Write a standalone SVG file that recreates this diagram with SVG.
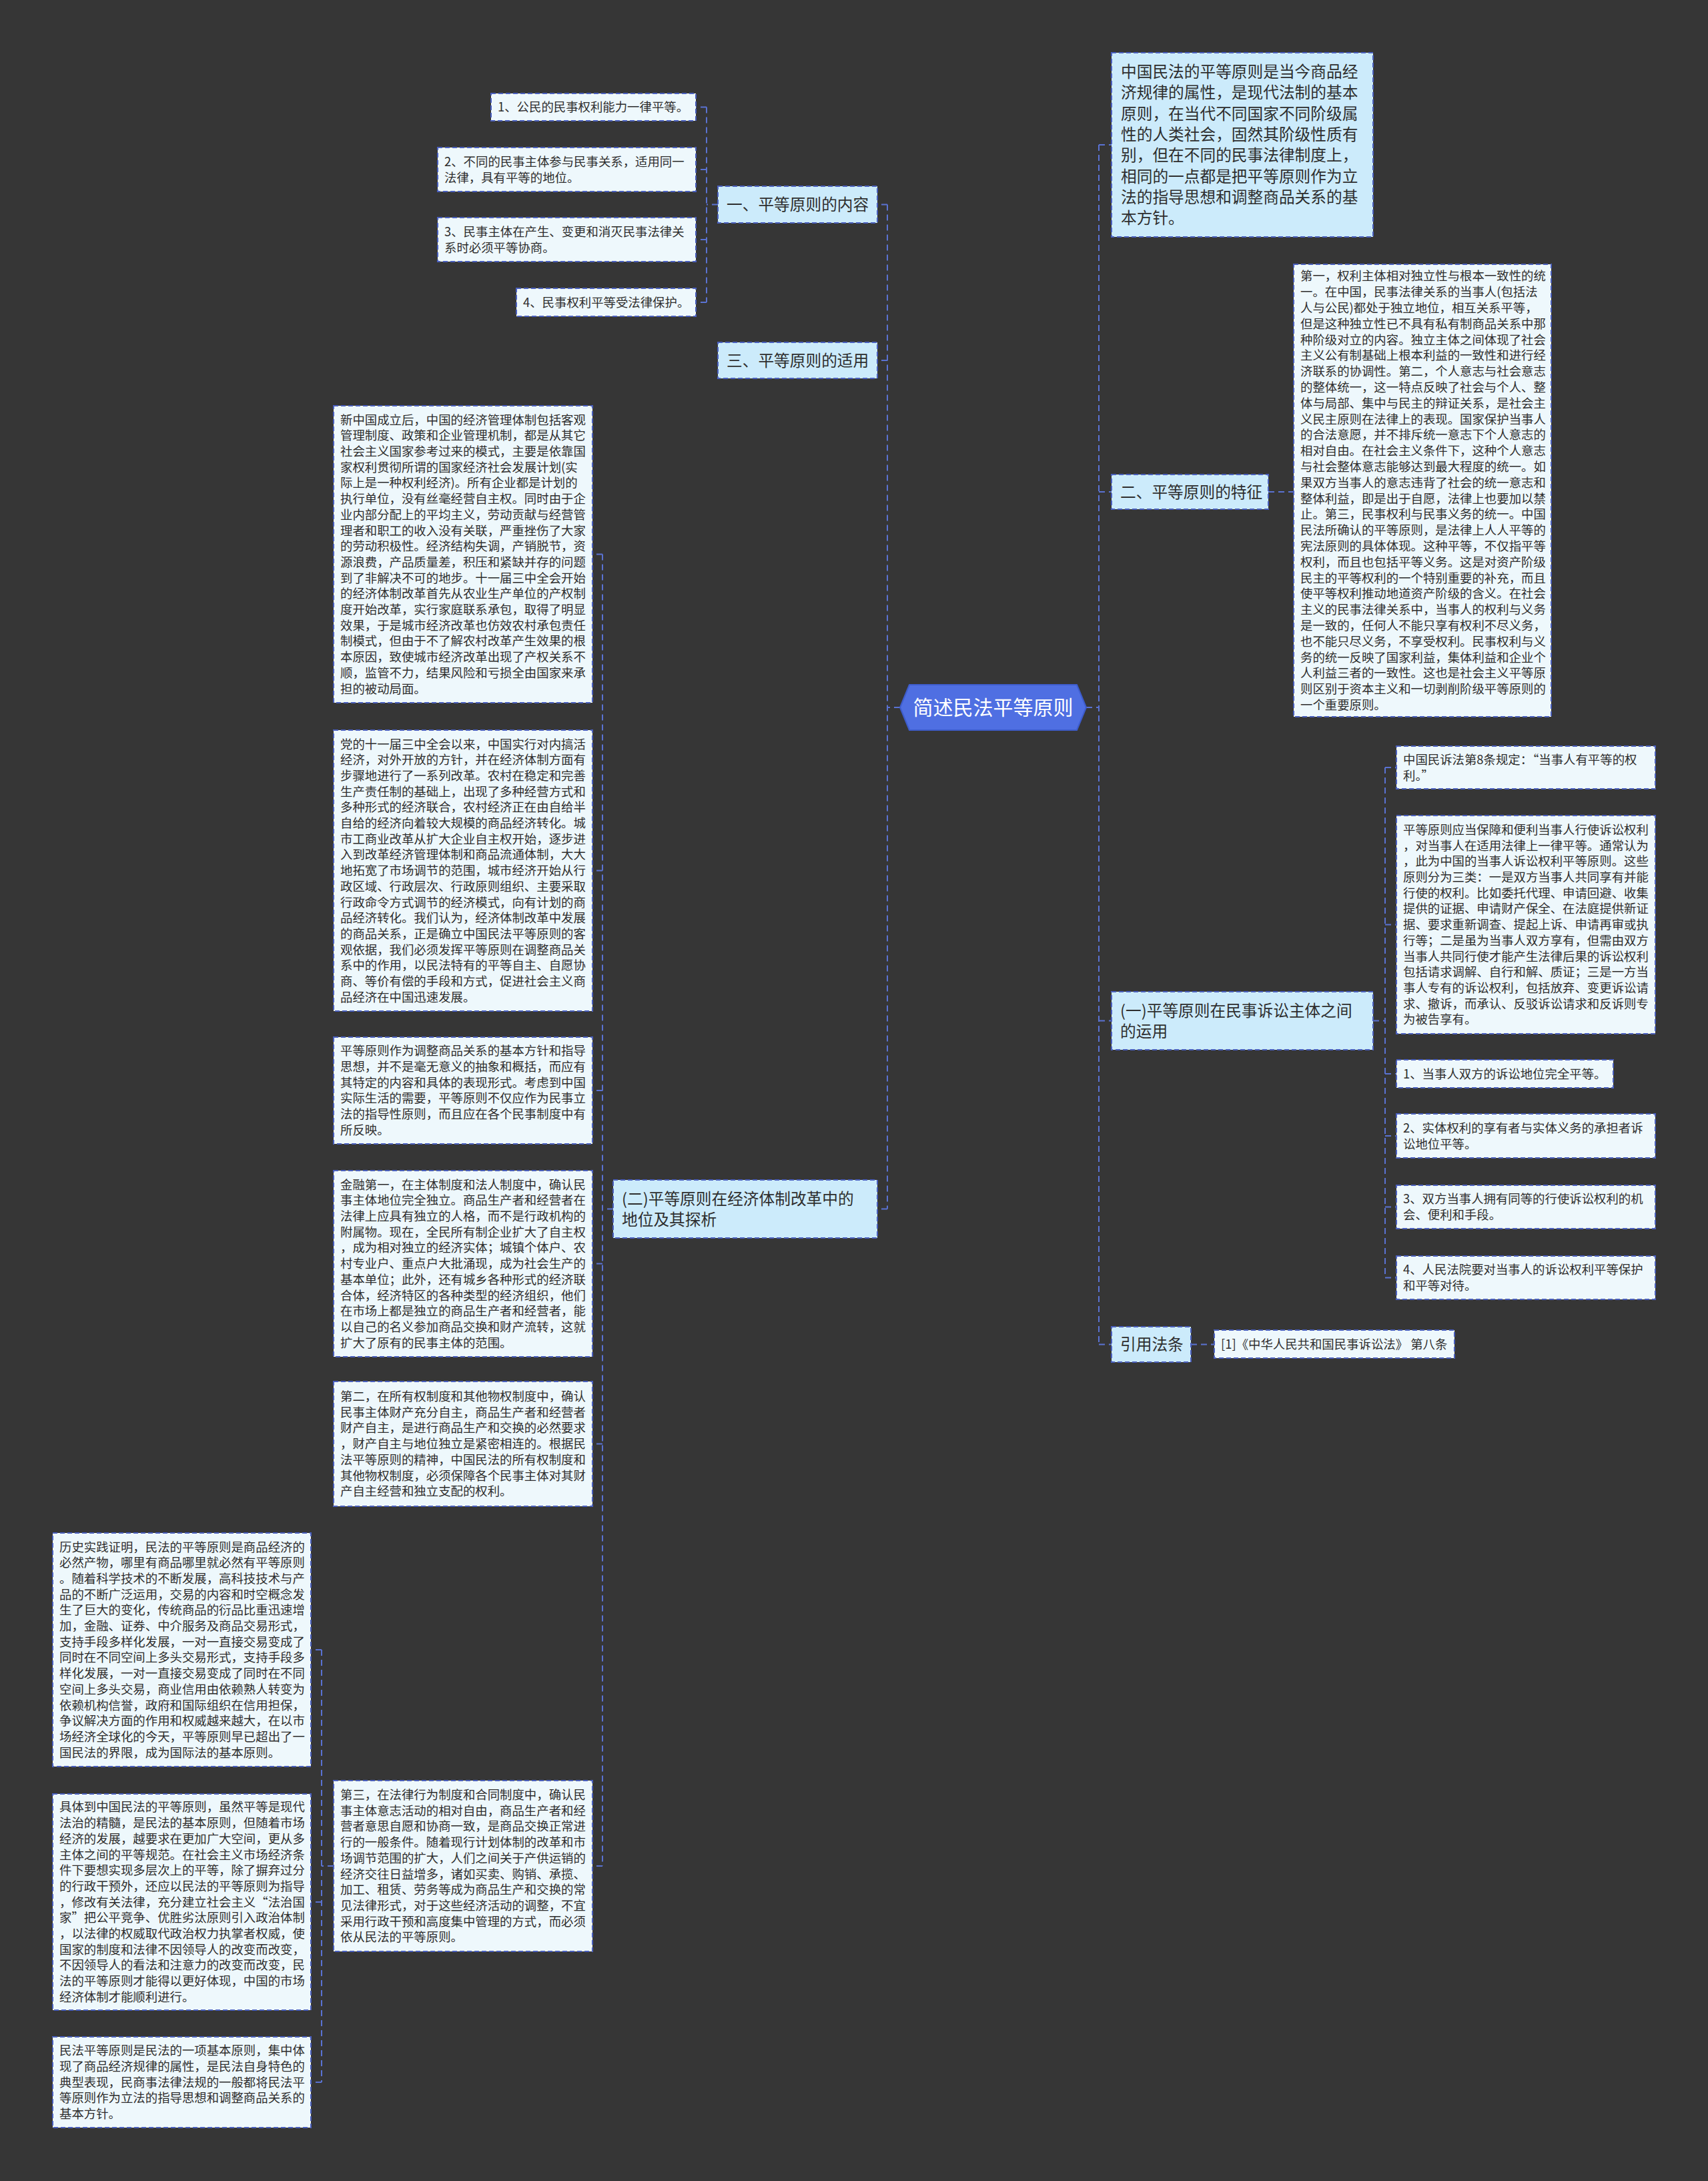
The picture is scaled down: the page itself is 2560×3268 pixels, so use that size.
<svg xmlns="http://www.w3.org/2000/svg" width="2560" height="3268" viewBox="0 0 2560 3268">
<style>
.bg{fill:#363636}
.l1{fill:#ccebfb;stroke:#4a5fbd;stroke-width:2;stroke-dasharray:7 4}
.lf{fill:#eef8fc;stroke:#4a5fbd;stroke-width:2;stroke-dasharray:7 4}
.c{fill:none;stroke:#5a72d2;stroke-width:2;stroke-dasharray:9 6}
text{font-family:"Noto Sans CJK SC","Noto Sans",sans-serif;fill:#2e2e2e}
.t1{font-size:23.7px}
.t2{font-size:18.4px}
.tc{font-size:30px;fill:#ffffff;text-anchor:middle}
</style>
<rect class="bg" x="0" y="0" width="2560" height="3268"/>

<g id="connectors">
<path class="c" d="M1349 1060 H1330 M1330 306.5 V1811.5 M1330 306.5 H1315 M1330 540 H1315 M1330 1811.5 H1315"/>
<path class="c" d="M1628 1060 H1647 M1647 217 V2014.5 M1647 217 H1666 M1647 737 H1666 M1647 1529.5 H1666 M1647 2014.5 H1666"/>
<path class="c" d="M1076 306.5 H1059 M1059 160.5 V453 M1059 160.5 H1043 M1059 254 H1043 M1059 359 H1043 M1059 453 H1043"/>
<path class="c" d="M1901 737 H1939"/>
<path class="c" d="M2058 1529.5 H2076 M2076 1150 V1914.5 M2076 1150 H2093 M2076 1385.5 H2093 M2076 1609 H2093 M2076 1702 H2093 M2076 1808.5 H2093 M2076 1914.5 H2093"/>
<path class="c" d="M1785 2014.5 H1820"/>
<path class="c" d="M919 1811.5 H903 M903 830.5 V2796 M903 830.5 H888 M903 1304.5 H888 M903 1634 H888 M903 1893.5 H888 M903 2163.5 H888 M903 2796 H888"/>
<path class="c" d="M500 2796 H482 M482 2472 V3120 M482 2472 H466 M482 2850 H466 M482 3120 H466"/>
</g>

<g id="center">
<path d="M1349 1060 L1363 1026 H1614 L1628 1060 L1614 1094 H1363 Z" fill="#4f6fe2" stroke="#3d5ccc" stroke-width="2" stroke-linejoin="round"/>
<text class="tc" x="1488.5" y="1071">简述民法平等原则</text>
</g>

<g id="n-content">
<rect class="l1" x="1076" y="279" width="239" height="55"/>
<text class="t1" x="1089" y="315">一、平等原则的内容</text>
</g>
<g id="n-content-1">
<rect class="lf" x="736" y="140" width="307" height="41"/>
<text class="t2" x="746" y="167">1、公民的民事权利能力一律平等。</text>
</g>
<g id="n-content-2">
<rect class="lf" x="656" y="221" width="387" height="66"/>
<text class="t2" x="666" y="248.8">2、不同的民事主体参与民事关系，适用同一</text>
<text class="t2" x="666" y="272.5">法律，具有平等的地位。</text>
</g>
<g id="n-content-3">
<rect class="lf" x="656" y="326" width="387" height="66"/>
<text class="t2" x="666" y="353.8">3、民事主体在产生、变更和消灭民事法律关</text>
<text class="t2" x="666" y="377.5">系时必须平等协商。</text>
</g>
<g id="n-content-4">
<rect class="lf" x="774" y="432" width="269" height="42"/>
<text class="t2" x="784" y="459.6">4、民事权利平等受法律保护。</text>
</g>

<g id="n-apply">
<rect class="l1" x="1076" y="513" width="239" height="54"/>
<text class="t1" x="1089" y="548.5">三、平等原则的适用</text>
</g>

<g id="n-reform">
<rect class="l1" x="919" y="1768" width="396" height="87"/>
<text class="t1" x="932" y="1804.5">(二)平等原则在经济体制改革中的</text>
<text class="t1" x="932" y="1835.5">地位及其探析</text>
</g>

<g id="n-e1">
<rect class="lf" x="500" y="608" width="388" height="445"/>
<text class="t2" x="510" y="635.6">新中国成立后，中国的经济管理体制包括客观</text>
<text class="t2" x="510" y="659.3">管理制度、政策和企业管理机制，都是从其它</text>
<text class="t2" x="510" y="683">社会主义国家参考过来的模式，主要是依靠国</text>
<text class="t2" x="510" y="706.7">家权利贯彻所谓的国家经济社会发展计划(实</text>
<text class="t2" x="510" y="730.4">际上是一种权利经济)。所有企业都是计划的</text>
<text class="t2" x="510" y="754.1">执行单位，没有丝毫经营自主权。同时由于企</text>
<text class="t2" x="510" y="777.8">业内部分配上的平均主义，劳动贡献与经营管</text>
<text class="t2" x="510" y="801.5">理者和职工的收入没有关联，严重挫伤了大家</text>
<text class="t2" x="510" y="825.2">的劳动积极性。经济结构失调，产销脱节，资</text>
<text class="t2" x="510" y="848.9">源浪费，产品质量差，积压和紧缺并存的问题</text>
<text class="t2" x="510" y="872.6">到了非解决不可的地步。十一届三中全会开始</text>
<text class="t2" x="510" y="896.3">的经济体制改革首先从农业生产单位的产权制</text>
<text class="t2" x="510" y="920">度开始改革，实行家庭联系承包，取得了明显</text>
<text class="t2" x="510" y="943.7">效果，于是城市经济改革也仿效农村承包责任</text>
<text class="t2" x="510" y="967.4">制模式，但由于不了解农村改革产生效果的根</text>
<text class="t2" x="510" y="991.1">本原因，致使城市经济改革出现了产权关系不</text>
<text class="t2" x="510" y="1014.8">顺，监管不力，结果风险和亏损全由国家来承</text>
<text class="t2" x="510" y="1038.5">担的被动局面。</text>
</g>

<g id="n-e2">
<rect class="lf" x="500" y="1094" width="388" height="421"/>
<text class="t2" x="510" y="1121.5">党的十一届三中全会以来，中国实行对内搞活</text>
<text class="t2" x="510" y="1145.2">经济，对外开放的方针，并在经济体制方面有</text>
<text class="t2" x="510" y="1168.9">步骤地进行了一系列改革。农村在稳定和完善</text>
<text class="t2" x="510" y="1192.6">生产责任制的基础上，出现了多种经营方式和</text>
<text class="t2" x="510" y="1216.3">多种形式的经济联合，农村经济正在由自给半</text>
<text class="t2" x="510" y="1240">自给的经济向着较大规模的商品经济转化。城</text>
<text class="t2" x="510" y="1263.7">市工商业改革从扩大企业自主权开始，逐步进</text>
<text class="t2" x="510" y="1287.4">入到改革经济管理体制和商品流通体制，大大</text>
<text class="t2" x="510" y="1311.1">地拓宽了市场调节的范围，城市经济开始从行</text>
<text class="t2" x="510" y="1334.8">政区域、行政层次、行政原则组织、主要采取</text>
<text class="t2" x="510" y="1358.5">行政命令方式调节的经济模式，向有计划的商</text>
<text class="t2" x="510" y="1382.2">品经济转化。我们认为，经济体制改革中发展</text>
<text class="t2" x="510" y="1405.9">的商品关系，正是确立中国民法平等原则的客</text>
<text class="t2" x="510" y="1429.6">观依据，我们必须发挥平等原则在调整商品关</text>
<text class="t2" x="510" y="1453.3">系中的作用，以民法特有的平等自主、自愿协</text>
<text class="t2" x="510" y="1477">商、等价有偿的手段和方式，促进社会主义商</text>
<text class="t2" x="510" y="1500.7">品经济在中国迅速发展。</text>
</g>

<g id="n-e3">
<rect class="lf" x="500" y="1554" width="388" height="160"/>
<text class="t2" x="510" y="1581.3">平等原则作为调整商品关系的基本方针和指导</text>
<text class="t2" x="510" y="1605">思想，并不是毫无意义的抽象和概括，而应有</text>
<text class="t2" x="510" y="1628.7">其特定的内容和具体的表现形式。考虑到中国</text>
<text class="t2" x="510" y="1652.4">实际生活的需要，平等原则不仅应作为民事立</text>
<text class="t2" x="510" y="1676.1">法的指导性原则，而且应在各个民事制度中有</text>
<text class="t2" x="510" y="1699.8">所反映。</text>
</g>

<g id="n-e4">
<rect class="lf" x="500" y="1754" width="388" height="279"/>
<text class="t2" x="510" y="1781.6">金融第一，在主体制度和法人制度中，确认民</text>
<text class="t2" x="510" y="1805.3">事主体地位完全独立。商品生产者和经营者在</text>
<text class="t2" x="510" y="1829">法律上应具有独立的人格，而不是行政机构的</text>
<text class="t2" x="510" y="1852.7">附属物。现在，全民所有制企业扩大了自主权</text>
<text class="t2" x="510" y="1876.4">，成为相对独立的经济实体；城镇个体户、农</text>
<text class="t2" x="510" y="1900.1">村专业户、重点户大批涌现，成为社会生产的</text>
<text class="t2" x="510" y="1923.8">基本单位；此外，还有城乡各种形式的经济联</text>
<text class="t2" x="510" y="1947.5">合体，经济特区的各种类型的经济组织，他们</text>
<text class="t2" x="510" y="1971.2">在市场上都是独立的商品生产者和经营者，能</text>
<text class="t2" x="510" y="1994.9">以自己的名义参加商品交换和财产流转，这就</text>
<text class="t2" x="510" y="2018.6">扩大了原有的民事主体的范围。</text>
</g>

<g id="n-e5">
<rect class="lf" x="500" y="2070" width="388" height="187"/>
<text class="t2" x="510" y="2099">第二，在所有权制度和其他物权制度中，确认</text>
<text class="t2" x="510" y="2122.7">民事主体财产充分自主，商品生产者和经营者</text>
<text class="t2" x="510" y="2146.4">财产自主，是进行商品生产和交换的必然要求</text>
<text class="t2" x="510" y="2170.1">，财产自主与地位独立是紧密相连的。根据民</text>
<text class="t2" x="510" y="2193.8">法平等原则的精神，中国民法的所有权制度和</text>
<text class="t2" x="510" y="2217.5">其他物权制度，必须保障各个民事主体对其财</text>
<text class="t2" x="510" y="2241.2">产自主经营和独立支配的权利。</text>
</g>

<g id="n-e6">
<rect class="lf" x="500" y="2668" width="388" height="256"/>
<text class="t2" x="510" y="2696">第三，在法律行为制度和合同制度中，确认民</text>
<text class="t2" x="510" y="2719.7">事主体意志活动的相对自由，商品生产者和经</text>
<text class="t2" x="510" y="2743.4">营者意思自愿和协商一致，是商品交换正常进</text>
<text class="t2" x="510" y="2767.1">行的一般条件。随着现行计划体制的改革和市</text>
<text class="t2" x="510" y="2790.8">场调节范围的扩大，人们之间关于产供运销的</text>
<text class="t2" x="510" y="2814.5">经济交往日益增多，诸如买卖、购销、承揽、</text>
<text class="t2" x="510" y="2838.2">加工、租赁、劳务等成为商品生产和交换的常</text>
<text class="t2" x="510" y="2861.9">见法律形式，对于这些经济活动的调整，不宜</text>
<text class="t2" x="510" y="2885.6">采用行政干预和高度集中管理的方式，而必须</text>
<text class="t2" x="510" y="2909.3">依从民法的平等原则。</text>
</g>

<g id="n-f1">
<rect class="lf" x="79" y="2297" width="387" height="350"/>
<text class="t2" x="89" y="2324.5">历史实践证明，民法的平等原则是商品经济的</text>
<text class="t2" x="89" y="2348.2">必然产物，哪里有商品哪里就必然有平等原则</text>
<text class="t2" x="89" y="2371.9">。随着科学技术的不断发展，高科技技术与产</text>
<text class="t2" x="89" y="2395.6">品的不断广泛运用，交易的内容和时空概念发</text>
<text class="t2" x="89" y="2419.3">生了巨大的变化，传统商品的衍品比重迅速增</text>
<text class="t2" x="89" y="2443">加，金融、证券、中介服务及商品交易形式，</text>
<text class="t2" x="89" y="2466.7">支持手段多样化发展，一对一直接交易变成了</text>
<text class="t2" x="89" y="2490.4">同时在不同空间上多头交易形式，支持手段多</text>
<text class="t2" x="89" y="2514.1">样化发展，一对一直接交易变成了同时在不同</text>
<text class="t2" x="89" y="2537.8">空间上多头交易，商业信用由依赖熟人转变为</text>
<text class="t2" x="89" y="2561.5">依赖机构信誉，政府和国际组织在信用担保，</text>
<text class="t2" x="89" y="2585.2">争议解决方面的作用和权威越来越大，在以市</text>
<text class="t2" x="89" y="2608.9">场经济全球化的今天，平等原则早已超出了一</text>
<text class="t2" x="89" y="2632.6">国民法的界限，成为国际法的基本原则。</text>
</g>

<g id="n-f2">
<rect class="lf" x="79" y="2688" width="387" height="324"/>
<text class="t2" x="89" y="2714.4">具体到中国民法的平等原则，虽然平等是现代</text>
<text class="t2" x="89" y="2738.1">法治的精髓，是民法的基本原则，但随着市场</text>
<text class="t2" x="89" y="2761.8">经济的发展，越要求在更加广大空间，更从多</text>
<text class="t2" x="89" y="2785.5">主体之间的平等规范。在社会主义市场经济条</text>
<text class="t2" x="89" y="2809.2">件下要想实现多层次上的平等，除了摒弃过分</text>
<text class="t2" x="89" y="2832.9">的行政干预外，还应以民法的平等原则为指导</text>
<text class="t2" x="89" y="2856.6">，修改有关法律，充分建立社会主义“法治国</text>
<text class="t2" x="89" y="2880.3">家”把公平竞争、优胜劣汰原则引入政治体制</text>
<text class="t2" x="89" y="2904">，以法律的权威取代政治权力执掌者权威，使</text>
<text class="t2" x="89" y="2927.7">国家的制度和法律不因领导人的改变而改变，</text>
<text class="t2" x="89" y="2951.4">不因领导人的看法和注意力的改变而改变，民</text>
<text class="t2" x="89" y="2975.1">法的平等原则才能得以更好体现，中国的市场</text>
<text class="t2" x="89" y="2998.8">经济体制才能顺利进行。</text>
</g>

<g id="n-f3">
<rect class="lf" x="79" y="3052" width="387" height="136"/>
<text class="t2" x="89" y="3079.2">民法平等原则是民法的一项基本原则，集中体</text>
<text class="t2" x="89" y="3102.9">现了商品经济规律的属性，是民法自身特色的</text>
<text class="t2" x="89" y="3126.6">典型表现，民商事法律法规的一般都将民法平</text>
<text class="t2" x="89" y="3150.3">等原则作为立法的指导思想和调整商品关系的</text>
<text class="t2" x="89" y="3174">基本方针。</text>
</g>

<g id="n-intro">
<rect class="l1" x="1666" y="79" width="392" height="276"/>
<text class="t1" x="1680" y="116">中国民法的平等原则是当今商品经</text>
<text class="t1" x="1680" y="147.3">济规律的属性，是现代法制的基本</text>
<text class="t1" x="1680" y="178.6">原则，在当代不同国家不同阶级属</text>
<text class="t1" x="1680" y="209.9">性的人类社会，固然其阶级性质有</text>
<text class="t1" x="1680" y="241.2">别，但在不同的民事法律制度上，</text>
<text class="t1" x="1680" y="272.5">相同的一点都是把平等原则作为立</text>
<text class="t1" x="1680" y="303.8">法的指导思想和调整商品关系的基</text>
<text class="t1" x="1680" y="335.1">本方针。</text>
</g>

<g id="n-feature">
<rect class="l1" x="1666" y="711" width="235" height="52"/>
<text class="t1" x="1679" y="745.5">二、平等原则的特征</text>
</g>

<g id="n-feature-text">
<rect class="lf" x="1939" y="396" width="386" height="678"/>
<text class="t2" x="1949" y="420.3">第一，权利主体相对独立性与根本一致性的统</text>
<text class="t2" x="1949" y="444.1">一。在中国，民事法律关系的当事人(包括法</text>
<text class="t2" x="1949" y="467.9">人与公民)都处于独立地位，相互关系平等，</text>
<text class="t2" x="1949" y="491.7">但是这种独立性已不具有私有制商品关系中那</text>
<text class="t2" x="1949" y="515.5">种阶级对立的内容。独立主体之间体现了社会</text>
<text class="t2" x="1949" y="539.3">主义公有制基础上根本利益的一致性和进行经</text>
<text class="t2" x="1949" y="563.1">济联系的协调性。第二，个人意志与社会意志</text>
<text class="t2" x="1949" y="586.9">的整体统一，这一特点反映了社会与个人、整</text>
<text class="t2" x="1949" y="610.7">体与局部、集中与民主的辩证关系，是社会主</text>
<text class="t2" x="1949" y="634.5">义民主原则在法律上的表现。国家保护当事人</text>
<text class="t2" x="1949" y="658.3">的合法意愿，并不排斥统一意志下个人意志的</text>
<text class="t2" x="1949" y="682.1">相对自由。在社会主义条件下，这种个人意志</text>
<text class="t2" x="1949" y="705.9">与社会整体意志能够达到最大程度的统一。如</text>
<text class="t2" x="1949" y="729.7">果双方当事人的意志违背了社会的统一意志和</text>
<text class="t2" x="1949" y="753.5">整体利益，即是出于自愿，法律上也要加以禁</text>
<text class="t2" x="1949" y="777.3">止。第三，民事权利与民事义务的统一。中国</text>
<text class="t2" x="1949" y="801.1">民法所确认的平等原则，是法律上人人平等的</text>
<text class="t2" x="1949" y="824.9">宪法原则的具体体现。这种平等，不仅指平等</text>
<text class="t2" x="1949" y="848.7">权利，而且也包括平等义务。这是对资产阶级</text>
<text class="t2" x="1949" y="872.5">民主的平等权利的一个特别重要的补充，而且</text>
<text class="t2" x="1949" y="896.3">使平等权利推动地道资产阶级的含义。在社会</text>
<text class="t2" x="1949" y="920.1">主义的民事法律关系中，当事人的权利与义务</text>
<text class="t2" x="1949" y="943.9">是一致的，任何人不能只享有权利不尽义务，</text>
<text class="t2" x="1949" y="967.7">也不能只尽义务，不享受权利。民事权利与义</text>
<text class="t2" x="1949" y="991.5">务的统一反映了国家利益，集体利益和企业个</text>
<text class="t2" x="1949" y="1015.3">人利益三者的一致性。这也是社会主义平等原</text>
<text class="t2" x="1949" y="1039.1">则区别于资本主义和一切剥削阶级平等原则的</text>
<text class="t2" x="1949" y="1062.9">一个重要原则。</text>
</g>

<g id="n-litigation">
<rect class="l1" x="1666" y="1486" width="392" height="87"/>
<text class="t1" x="1679" y="1522.5">(一)平等原则在民事诉讼主体之间</text>
<text class="t1" x="1679" y="1553.5">的运用</text>
</g>
<g id="n-c1">
<rect class="lf" x="2093" y="1118" width="388" height="64"/>
<text class="t2" x="2103" y="1144.8">中国民诉法第8条规定：“当事人有平等的权</text>
<text class="t2" x="2103" y="1168.5">利。”</text>
</g>
<g id="n-c2">
<rect class="lf" x="2093" y="1222" width="388" height="327"/>
<text class="t2" x="2103" y="1249.9">平等原则应当保障和便利当事人行使诉讼权利</text>
<text class="t2" x="2103" y="1273.6">，对当事人在适用法律上一律平等。通常认为</text>
<text class="t2" x="2103" y="1297.3">，此为中国的当事人诉讼权利平等原则。这些</text>
<text class="t2" x="2103" y="1321">原则分为三类：一是双方当事人共同享有并能</text>
<text class="t2" x="2103" y="1344.7">行使的权利。比如委托代理、申请回避、收集</text>
<text class="t2" x="2103" y="1368.4">提供的证据、申请财产保全、在法庭提供新证</text>
<text class="t2" x="2103" y="1392.1">据、要求重新调查、提起上诉、申请再审或执</text>
<text class="t2" x="2103" y="1415.8">行等；二是虽为当事人双方享有，但需由双方</text>
<text class="t2" x="2103" y="1439.5">当事人共同行使才能产生法律后果的诉讼权利</text>
<text class="t2" x="2103" y="1463.2">包括请求调解、自行和解、质证；三是一方当</text>
<text class="t2" x="2103" y="1486.9">事人专有的诉讼权利，包括放弃、变更诉讼请</text>
<text class="t2" x="2103" y="1510.6">求、撤诉，而承认、反驳诉讼请求和反诉则专</text>
<text class="t2" x="2103" y="1534.3">为被告享有。</text>
</g>
<g id="n-c3">
<rect class="lf" x="2093" y="1588" width="325" height="42"/>
<text class="t2" x="2103" y="1615.6">1、当事人双方的诉讼地位完全平等。</text>
</g>
<g id="n-c4">
<rect class="lf" x="2093" y="1669" width="388" height="66"/>
<text class="t2" x="2103" y="1696.8">2、实体权利的享有者与实体义务的承担者诉</text>
<text class="t2" x="2103" y="1720.5">讼地位平等。</text>
</g>
<g id="n-c5">
<rect class="lf" x="2093" y="1776" width="388" height="65"/>
<text class="t2" x="2103" y="1803.3">3、双方当事人拥有同等的行使诉讼权利的机</text>
<text class="t2" x="2103" y="1827">会、便利和手段。</text>
</g>
<g id="n-c6">
<rect class="lf" x="2093" y="1882" width="388" height="65"/>
<text class="t2" x="2103" y="1909.3">4、人民法院要对当事人的诉讼权利平等保护</text>
<text class="t2" x="2103" y="1933">和平等对待。</text>
</g>

<g id="n-cite">
<rect class="l1" x="1666" y="1988" width="119" height="53"/>
<text class="t1" x="1679" y="2023">引用法条</text>
</g>
<g id="n-cite-1">
<rect class="lf" x="1820" y="1993" width="360" height="42"/>
<text class="t2" x="1830" y="2020.6">[1]《中华人民共和国民事诉讼法》 第八条</text>
</g>
</svg>
